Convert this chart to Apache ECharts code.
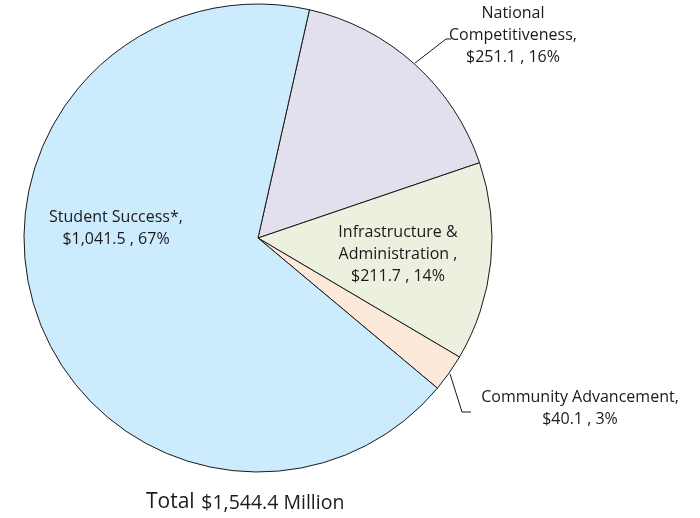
<!DOCTYPE html>
<html>
<head>
<meta charset="utf-8">
<script src="https://cdn.jsdelivr.net/npm/echarts@6/dist/echarts.min.js"></script>
<style>
  html, body { margin: 0; padding: 0; background: #ffffff; }
  #chart { width: 700px; height: 518px; }
</style>
</head>
<body>
<div id="chart"></div>
<script>
// Budget allocation by category, $ millions
const categories = ['National\nCompetitiveness,', 'Infrastructure &\nAdministration ,', 'Community Advancement,', 'Student Success*,'];
const amounts = [251.1, 211.7, 40.1, 1041.5];
const amountLabels = ['$251.1', '$211.7', '$40.1', '$1,041.5'];
const percentLabels = ['16%', '14%', '3%', '67%'];
const totalLabel = '$1,544.4 Million';

const sliceColors = ['#E4DFEC', '#EBF1DE', '#FDE9D9', '#CCEBFD'];

const FONT = '"Open Sans", sans-serif';

// label placement per slice, with optional leader line points
const labelPlacement = [
  { x: 513, y: 35, line: [[415, 63], [446, 39], [451, 39]] },
  { x: 398, y: 254, line: null },
  { x: 580, y: 408, line: [[450, 374], [462, 412], [471, 412]] },
  { x: 116, y: 228, line: null }
];

const data = categories.map((name, i) => ({
  name: name,
  value: amounts[i],
  itemStyle: { color: sliceColors[i] },
  label: {
    formatter: name + '\n' + amountLabels[i] + ' , ' + percentLabels[i]
  },
  labelLine: { show: labelPlacement[i].line !== null }
}));

const chart = echarts.init(document.getElementById('chart'), null, { renderer: 'canvas' });

chart.setOption({
  backgroundColor: '#ffffff',
  animation: false,
  series: [{
    type: 'pie',
    center: [258, 238],
    radius: [0, 234],
    startAngle: 77.3,
    clockwise: true,
    avoidLabelOverlap: false,
    itemStyle: { borderColor: '#1a1a1a', borderWidth: 1 },
    label: {
      show: true,
      position: 'outside',
      color: '#1a1a1a',
      fontFamily: FONT,
      fontSize: 16,
      lineHeight: 22,
      align: 'center'
    },
    labelLine: {
      lineStyle: { color: '#1a1a1a', width: 1 },
      smooth: false
    },
    labelLayout: function (params) {
      const p = labelPlacement[params.dataIndex];
      const out = { x: p.x, y: p.y, align: 'center', verticalAlign: 'middle' };
      if (p.line) out.labelLinePoints = p.line;
      return out;
    },
    emphasis: { disabled: true },
    data: data
  }],
  graphic: [{
    type: 'text',
    left: 146,
    top: 492,
    style: {
      text: '{a|Total}  {b|' + totalLabel + '}',
      rich: {
        a: { fontFamily: FONT, fontSize: 21, fill: '#1a1a1a', verticalAlign: 'bottom' },
        b: { fontFamily: FONT, fontSize: 19.5, fill: '#1a1a1a', verticalAlign: 'bottom' }
      }
    }
  }]
});
</script>
</body>
</html>
